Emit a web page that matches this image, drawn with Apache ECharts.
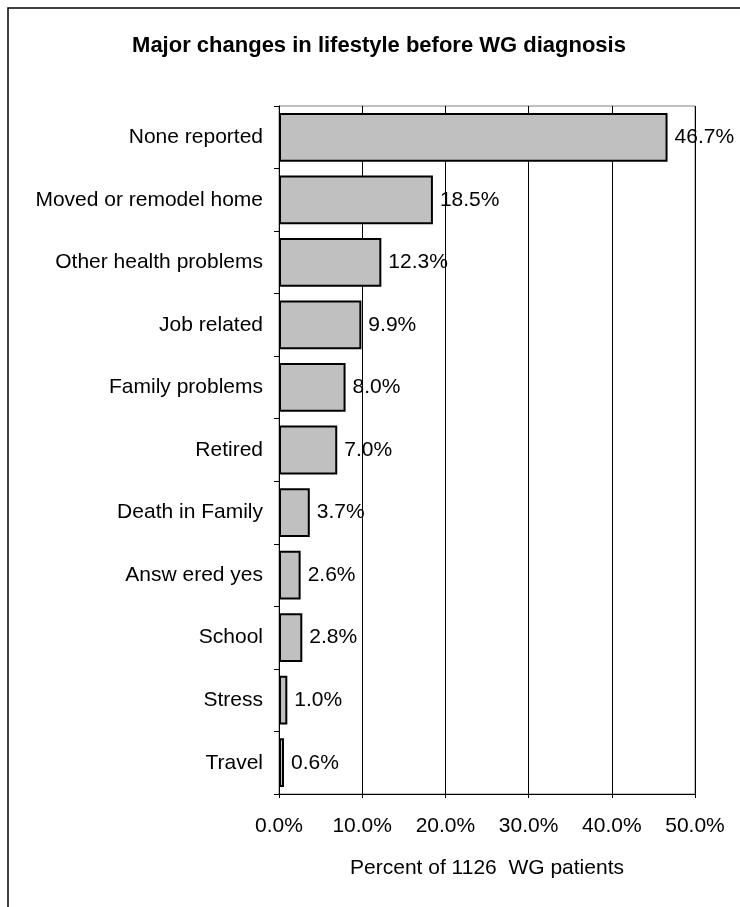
<!DOCTYPE html>
<html>
<head>
<meta charset="utf-8">
<style>
html,body{margin:0;padding:0;background:#fff;}
#chart{width:740px;height:907px;}
</style>
<script src="https://cdn.jsdelivr.net/npm/echarts@6/dist/echarts.min.js"></script>
</head>
<body>
<div id="chart"></div>
<script>
const titleText = 'Major changes in lifestyle before WG diagnosis';
const axisName = 'Percent of 1126  WG patients';
const categories = ['None reported','Moved or remodel home','Other health problems','Job related','Family problems','Retired','Death in Family','Answ ered yes','School','Stress','Travel'];
const values = [46.7, 18.5, 12.3, 9.9, 8.0, 7.0, 3.7, 2.6, 2.8, 1.0, 0.6];
const xTicks = [0, 10, 20, 30, 40, 50];

const FONT = '"Liberation Sans", Arial, sans-serif';
const chart = echarts.init(document.getElementById('chart'), null, {renderer: 'canvas'});
chart.setOption({
  animation: false,
  backgroundColor: '#ffffff',
  graphic: [{
    type: 'rect', silent: true, z: 100,
    shape: {x: 8, y: 8, width: 800, height: 1000},
    style: {fill: 'none', stroke: '#000', lineWidth: 1.5}
  }],
  title: {
    text: titleText,
    left: 374, top: 30, textAlign: 'center',
    textStyle: {fontFamily: FONT, fontSize: 22, fontWeight: 'bold', color: '#000'}
  },
  grid: {
    left: 279, right: 45, top: 106, bottom: 113,
    show: true, borderColor: '#808080', borderWidth: 1, backgroundColor: 'transparent'
  },
  xAxis: {
    type: 'value',
    min: xTicks[0], max: xTicks[xTicks.length - 1], interval: 10,
    name: axisName, nameLocation: 'middle', nameGap: 64,
    nameTextStyle: {fontFamily: FONT, fontSize: 21, color: '#000'},
    axisLine: {show: true, lineStyle: {color: '#000', width: 1}},
    axisTick: {show: true, length: 4, lineStyle: {color: '#000'}},
    axisLabel: {fontFamily: FONT, fontSize: 21, color: '#000', margin: 22,
      formatter: v => v.toFixed(1) + '%'},
    splitLine: {show: true, lineStyle: {color: '#000', width: 1}}
  },
  yAxis: {
    type: 'category', data: categories, inverse: true,
    axisLine: {show: true, lineStyle: {color: '#000', width: 1}},
    axisTick: {show: true, length: 5, alignWithLabel: false, lineStyle: {color: '#000'}},
    axisLabel: {fontFamily: FONT, fontSize: 21, color: '#000', margin: 16},
    splitLine: {show: false}
  },
  series: [{
    type: 'bar',
    data: values,
    barCategoryGap: '22%',
    itemStyle: {color: '#c0c0c0', borderColor: '#000', borderWidth: 2},
    label: {show: true, position: 'right', distance: 7, fontFamily: FONT, fontSize: 21, color: '#000',
      formatter: p => p.value.toFixed(1) + '%'}
  }]
});
</script>
</body>
</html>
